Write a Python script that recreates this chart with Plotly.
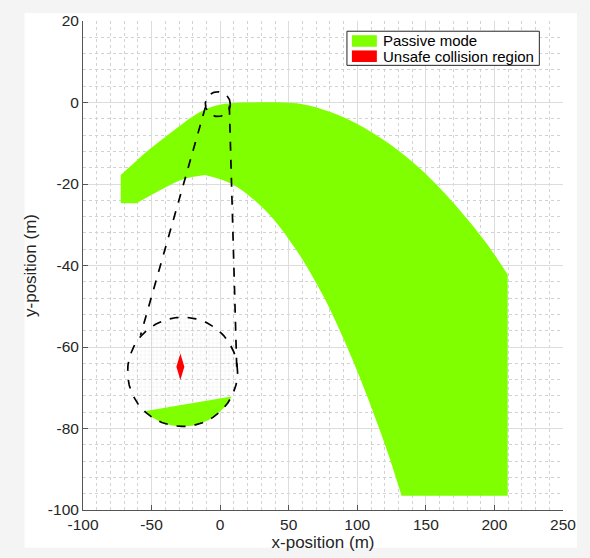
import numpy as np
import plotly.graph_objects as go

# ---------------- data ----------------
# Passive-mode region, upper boundary (left -> right)
upper_x = [-72.5, -63.0, -50.8, -38.7, -26.6, -14.4, -2.2, 9.6, 22.0, 45.0, 60.0, 80.0, 105.0, 130.0, 155.0, 180.0, 195.0, 209.7]
upper_y = [-17.8, -14.9, -11.3, -8.1, -5.0, -2.3, -0.7, -0.1, 0.0, 0.0, -0.4, -2.3, -6.2, -11.8, -19.2, -28.5, -34.9, -42.2]
# lower boundary, right branch (bottom -> peak)
lower_right_x = [132.4, 123.4, 114.9, 106.4, 96.6, 85.7, 74.7, 55.3, 32.2, 7.8, -11.0]
lower_right_y = [-96.5, -87.1, -79.0, -71.4, -63.2, -54.8, -47.2, -36.1, -26.2, -19.9, -17.8]
# lower boundary, left branch (peak -> left foot)
lower_left_x = [-11.0, -26.6, -43.5, -60.5]
lower_left_y = [-17.8, -18.8, -21.5, -24.7]
# outer edges of the region
right_edge_x = 209.7
bottom_edge_y = -96.5
left_edge_x = -72.5

# Unsafe collision region (magnified view)
unsafe_x = [-29.0, -26.1, -29.0, -31.9, -29.0]
unsafe_y = [-61.6, -64.85, -68.1, -64.85, -61.6]

# magnifier geometry (data units)
lens_center = (-1.7, -0.4)
lens_radius = (9.1, 3.04)
zoom_center = (-27.4, -66.1)
zoom_radius = (40.1, 13.4)
zoom_green_angles = (-134.0, -26.8)  # degrees, lower arc holding the passive region
connector_left_x = [-10.8, -58.1]
connector_left_y = [-1.2, -57.2]
connector_right_x = [6.7, 12.2]
connector_right_y = [-0.8, -66.2]

x_ticks = [-100, -50, 0, 50, 100, 150, 200, 250]
y_ticks = [-100, -80, -60, -40, -20, 0, 20]

legend_labels = ["Passive mode", "Unsafe collision region"]

GREEN = "#80ff00"
RED = "#ff0000"
TXT = "#262626"
FONT = "Liberation Sans, Arial, Helvetica, sans-serif"


def ellipse(center, radius, a0=0.0, a1=360.0, n=200):
    t = np.radians(np.linspace(a0, a1, n))
    return center[0] + radius[0] * np.cos(t), center[1] + radius[1] * np.sin(t)


# build the closed outline; corner points are doubled so the spline keeps them sharp
px, py = [], []
def seg(xs, ys):
    px.extend([xs[0]] + list(xs) + [xs[-1]])
    py.extend([ys[0]] + list(ys) + [ys[-1]])

seg(upper_x, upper_y)
seg([right_edge_x, right_edge_x], [upper_y[-1], bottom_edge_y])
seg([right_edge_x, lower_right_x[0]], [bottom_edge_y, bottom_edge_y])
seg(lower_right_x, lower_right_y)
seg(lower_left_x, lower_left_y)
seg([lower_left_x[-1], left_edge_x], [lower_left_y[-1], lower_left_y[-1]])
seg([left_edge_x, upper_x[0]], [lower_left_y[-1], upper_y[0]])

fig = go.Figure()

# main passive region
fig.add_trace(go.Scatter(
    x=px, y=py, fill="toself", fillcolor=GREEN, mode="lines",
    line=dict(width=0, color=GREEN, shape="spline", smoothing=1, simplify=False),
    name=legend_labels[0], hoverinfo="skip", showlegend=False))

# fine grid inside magnified view
zx, zy = ellipse(zoom_center, zoom_radius)
fig.add_trace(go.Scatter(
    x=zx, y=zy, fill="toself", fillcolor="rgba(0,0,0,0)", mode="lines",
    line=dict(width=0), showlegend=False, hoverinfo="skip",
    fillpattern=dict(shape="+", size=4, solidity=0.13, fgcolor="#cccccc", bgcolor="rgba(0,0,0,0)")))

# passive region inside magnified view
gx, gy = ellipse(zoom_center, zoom_radius, zoom_green_angles[0], zoom_green_angles[1], 120)
fig.add_trace(go.Scatter(
    x=list(gx) + [gx[0]], y=list(gy) + [gy[0]], fill="toself", fillcolor=GREEN,
    mode="lines", line=dict(width=0, color=GREEN), showlegend=False, hoverinfo="skip"))

# unsafe region
fig.add_trace(go.Scatter(
    x=unsafe_x, y=unsafe_y, fill="toself", fillcolor=RED, mode="lines",
    line=dict(width=0, color=RED), name=legend_labels[1], hoverinfo="skip", showlegend=False))

# dashed outlines
dash_line = dict(color="black", width=1.7, dash="dash")
lx, ly = ellipse(lens_center, lens_radius)
fig.add_trace(go.Scatter(x=lx, y=ly, mode="lines", line=dash_line, showlegend=False, hoverinfo="skip"))
fig.add_trace(go.Scatter(x=zx, y=zy, mode="lines", line=dash_line, showlegend=False, hoverinfo="skip"))
fig.add_trace(go.Scatter(x=connector_left_x, y=connector_left_y, mode="lines", line=dash_line, showlegend=False, hoverinfo="skip"))
fig.add_trace(go.Scatter(x=connector_right_x, y=connector_right_y, mode="lines", line=dash_line, showlegend=False, hoverinfo="skip"))

axis_common = dict(
    showline=True, linecolor="#555555", linewidth=1, mirror=False,
    ticks="inside", ticklen=5, tickcolor="#555555",
    showgrid=True, gridcolor="#dcdcdc", gridwidth=1, zeroline=False,
    tickfont=dict(family=FONT, size=15.5, color=TXT),
)

fig.update_xaxes(
    range=[-100, 250], tickvals=x_ticks, ticktext=[str(v) for v in x_ticks],
    title=dict(text="x-position (m)", font=dict(family=FONT, size=17, color=TXT), standoff=2),
    minor=dict(dtick=10, tick0=0, showgrid=True, gridcolor="#d2d2d2", griddash="dot", gridwidth=1, ticks=""),
    **axis_common)
fig.update_yaxes(
    range=[-100, 20], tickvals=y_ticks, ticktext=[str(v) for v in y_ticks],
    title=dict(text="y-position (m)", font=dict(family=FONT, size=17, color=TXT), standoff=6),
    minor=dict(dtick=4, tick0=0, showgrid=True, gridcolor="#d2d2d2", griddash="dot", gridwidth=1, ticks=""),
    **axis_common)

# legend box (drawn by hand to get MATLAB-style rectangular swatches)
lg_box = dict(x0=0.5499, x1=0.9507, y0=0.9093, y1=0.9791)
lg_sw_x = (0.5602, 0.6122)
lg_rows = [(0.9473, 0.9710), (0.9162, 0.9398)]
lg_colors = [GREEN, RED]

shapes = [
    dict(type="rect", xref="paper", yref="paper", x0=-0.1217, x1=1.029, y0=-0.0771, y1=1.0162,
         fillcolor="white", line=dict(width=0), layer="below"),
    dict(type="rect", xref="paper", yref="paper", **lg_box,
         fillcolor="white", line=dict(color="#262626", width=1), layer="above"),
]
annotations = []
for (y0, y1), col, lab in zip(lg_rows, lg_colors, legend_labels):
    shapes.append(dict(type="rect", xref="paper", yref="paper", x0=lg_sw_x[0], x1=lg_sw_x[1],
                       y0=y0, y1=y1, fillcolor=col, line=dict(width=0), layer="above"))
    annotations.append(dict(xref="paper", yref="paper", x=lg_sw_x[1] + 0.0085, y=(y0 + y1) / 2,
                            text=lab, showarrow=False, xanchor="left", yanchor="middle",
                            font=dict(family=FONT, size=15, color="black")))

fig.update_layout(
    width=590, height=558,
    margin=dict(l=82.5, r=27, t=18, b=47),
    paper_bgcolor="#f4f4f4", plot_bgcolor="white",
    font=dict(family=FONT, color=TXT),
    showlegend=False,
    shapes=shapes, annotations=annotations,
)

fig.write_html("out.html", config={"displayModeBar": False},
               post_script="document.body.style.margin='0';document.body.style.background='#f4f4f4';")
